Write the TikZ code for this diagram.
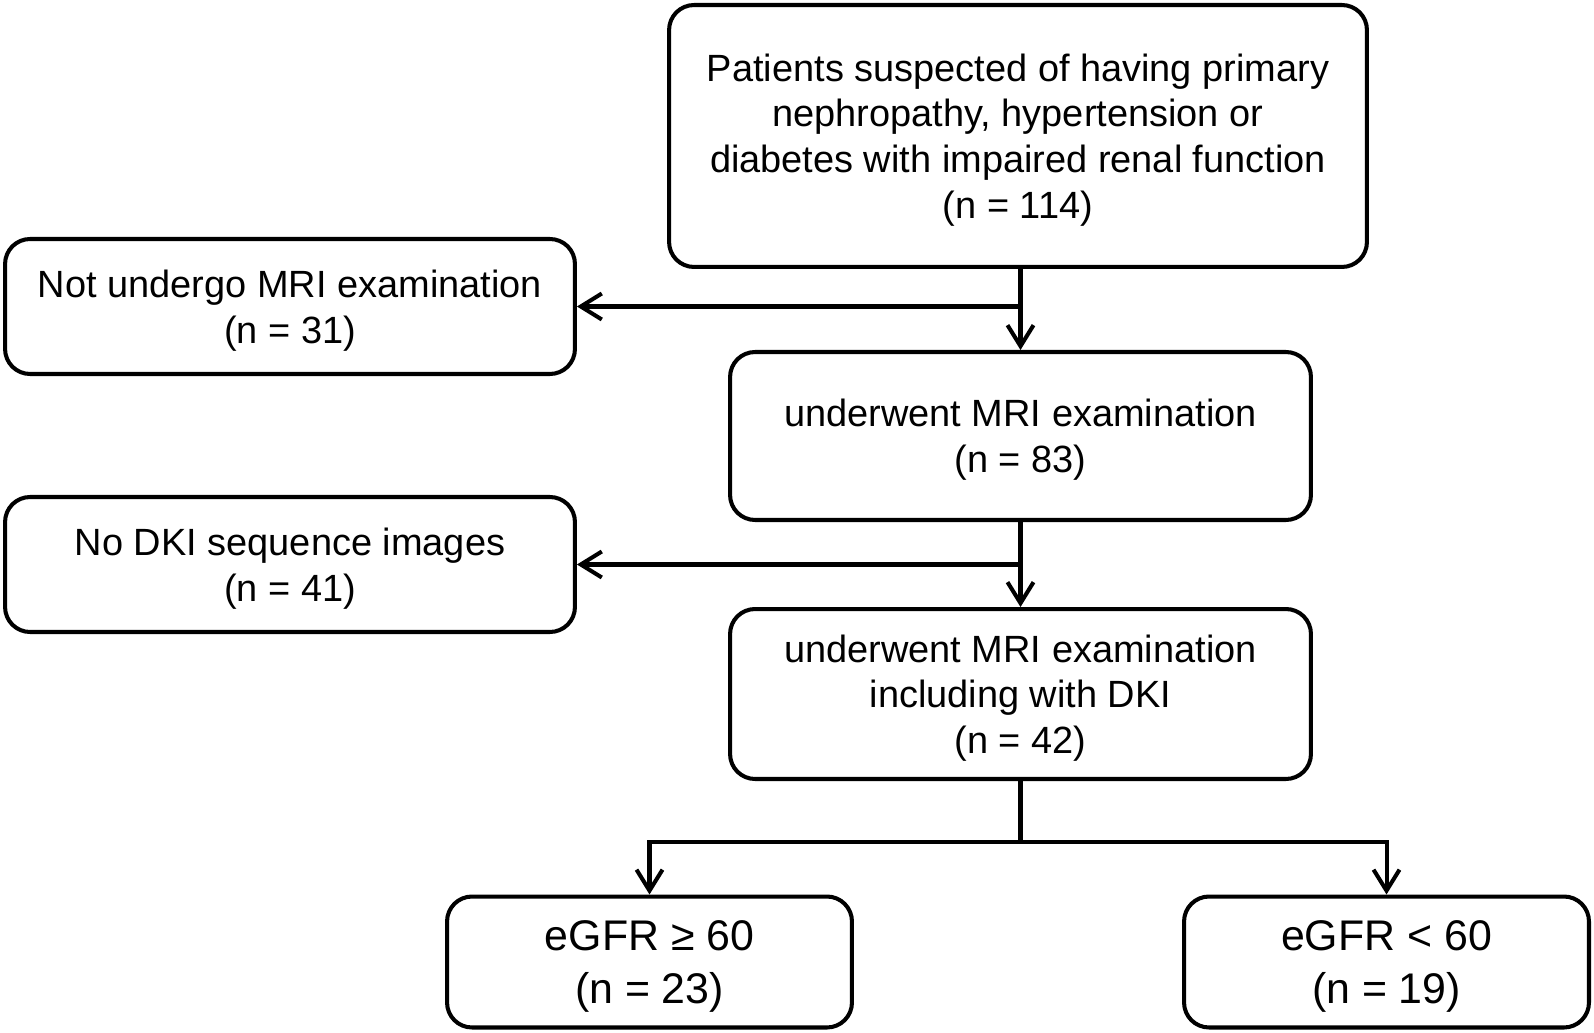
\documentclass[tikz,border=0pt]{standalone}
\usepackage{fontspec}
\setmainfont{Liberation Sans}
\usetikzlibrary{arrows.meta, positioning}

\begin{document}
\begin{tikzpicture}[x=0.02cm, y=-0.02cm, line width=2.3pt,
    box/.style={draw, rectangle, rounded corners=0.5cm, align=center, inner sep=0pt,
      font=\fontsize{21.6}{26}\selectfont, text depth=-1pt},
    sidebox/.style={box, minimum width=11.4cm, minimum height=2.7cm},
    mainbox/.style={box, minimum width=11.62cm, minimum height=3.36cm},
    groupbox/.style={box, minimum width=8.1cm, minimum height=2.62cm,
      font=\fontsize{24.4}{30}\selectfont},
    >={Straight Barb[length=0.42cm, width=0.52cm, line width=2.3pt]}]
    \useasboundingbox (0,0) rectangle (1594,1033);

    \node[box, minimum width=13.96cm, minimum height=5.24cm] (patients) at (1018,136)
      {Patients suspected of having primary\\nephropathy, hypertension or\\diabetes with impaired renal function\\(n = 114)};

    \node[sidebox] (nomri) at (290,306.5) {Not undergo MRI examination\\(n = 31)};
    \node[mainbox] (mri) at (1020.5,436) {underwent MRI examination\\(n = 83)};

    \node[sidebox] (nodki) at (290,564.5) {No DKI sequence images\\(n = 41)};
    \node[mainbox, minimum height=3.4cm] (dki) at (1020.5,694)
      {underwent MRI examination\\including with DKI\\(n = 42)};

    \node[groupbox] (high) at (649.5,962) {eGFR ≥ 60\\(n = 23)};
    \node[groupbox] (low) at (1386.5,962) {eGFR < 60\\(n = 19)};

    % main column
    \draw[->] (mri.north |- patients.south) -- (mri.north);
    \draw[->] (mri.north |- nomri.east) -- (nomri.east);
    \draw[->] (dki.north |- mri.south) -- (dki.north);
    \draw[->] (dki.north |- nodki.east) -- (nodki.east);

    % split into eGFR groups
    \draw (dki.south) -- ++(0,61) coordinate (split);
    \draw[->] (split) -| (high.north);
    \draw[->] (split) -| (low.north);
\end{tikzpicture}
\end{document}
